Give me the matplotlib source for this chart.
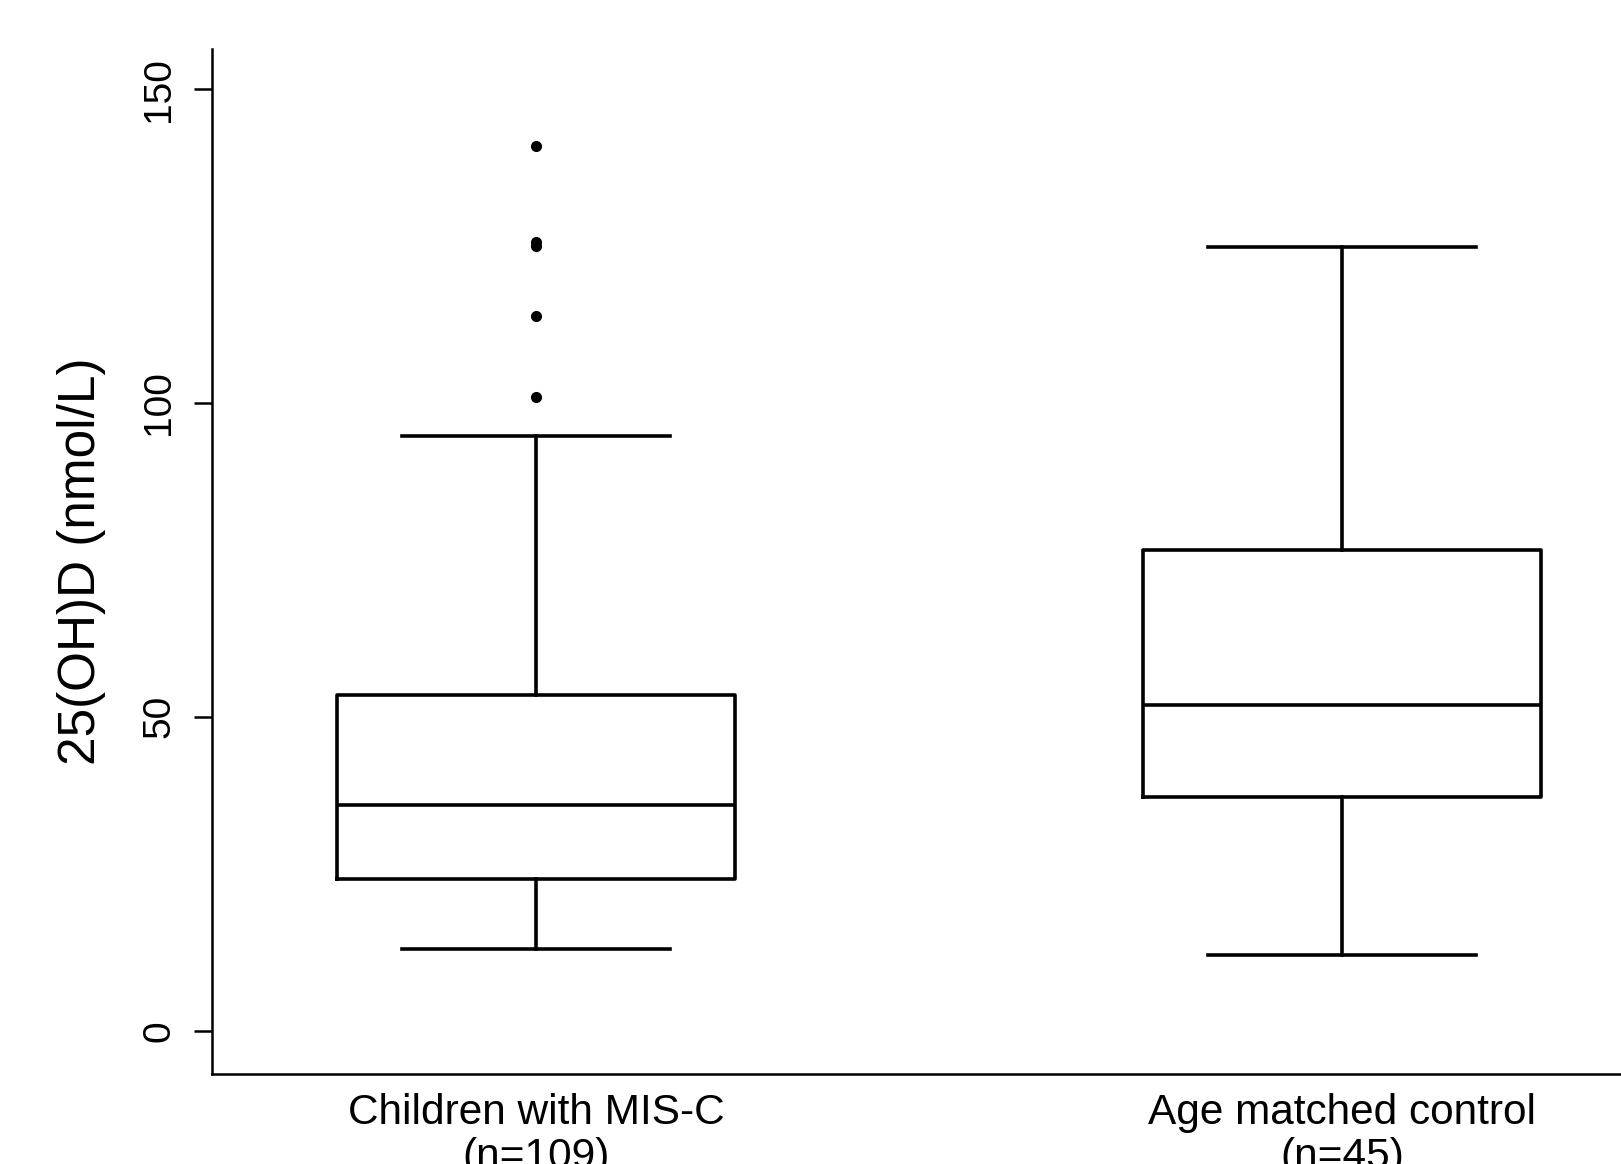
import matplotlib.pyplot as plt

plt.rcParams['font.family'] = ['Liberation Sans', 'DejaVu Sans']

groups = ['Children with MIS-C\n(n=109)', 'Age matched control\n(n=45)']
whislo = [13.0, 12.0]
q1 = [24.2, 37.2]
med = [35.9, 51.9]
q3 = [53.5, 76.6]
whishi = [94.8, 124.8]
fliers = [[141.0, 125.6, 125.0, 113.9, 100.9], []]


def plot_box():
    stats = []
    for i in range(len(groups)):
        stats.append({'label': groups[i], 'whislo': whislo[i], 'q1': q1[i],
                      'med': med[i], 'q3': q3[i], 'whishi': whishi[i],
                      'fliers': fliers[i]})

    fig = plt.figure(figsize=(16.21, 11.64), dpi=100)
    ax = fig.add_axes([0.1308, 0.0773, 0.8692, 0.8807])
    lw = 2.6
    ax.bxp(stats, positions=[1, 2], widths=0.494, capwidths=0.333,
           boxprops=dict(color='black', linewidth=lw),
           medianprops=dict(color='black', linewidth=lw),
           whiskerprops=dict(color='black', linewidth=lw),
           capprops=dict(color='black', linewidth=lw),
           flierprops=dict(marker='o', markerfacecolor='black',
                           markeredgecolor='black', markersize=7))

    ax.set_xlim(0.598, 2.346)
    ax.set_ylim(-6.9, 156.4)
    ax.set_yticks([0, 50, 100, 150])
    ax.tick_params(axis='y', labelsize=28, length=13, width=1.8, pad=12,
                   labelrotation=90)
    for t in ax.get_yticklabels():
        t.set_va('center')
    ax.tick_params(axis='x', labelsize=30.5, length=0, pad=14)
    for t in ax.get_xticklabels():
        t.set_linespacing(1.1)
    ax.spines['top'].set_visible(False)
    ax.spines['right'].set_visible(False)
    ax.spines['left'].set_linewidth(1.8)
    ax.spines['bottom'].set_linewidth(1.8)
    ax.set_ylabel('25(OH)D (nmol/L)', fontsize=37)
    ax.yaxis.set_label_coords(-0.075, 0.5)
    fig.savefig('out.png', dpi=100)


if __name__ == "__main__":
    plot_box()
